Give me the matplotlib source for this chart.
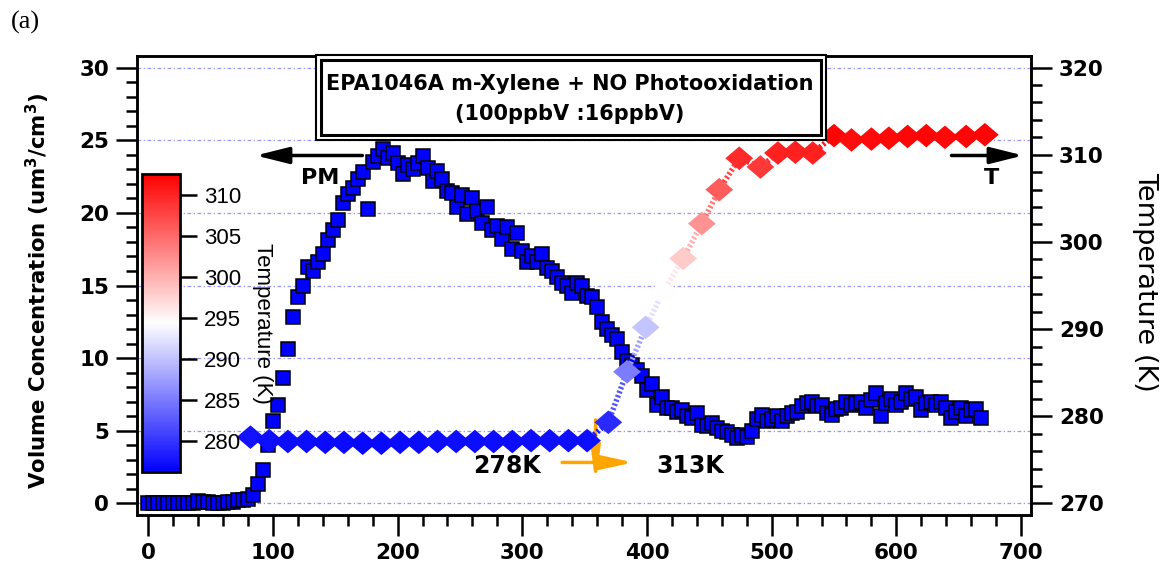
import numpy as np
import matplotlib
matplotlib.use('Agg')
import matplotlib.pyplot as plt
from matplotlib.collections import LineCollection
from matplotlib.patches import Rectangle
from matplotlib.ticker import MultipleLocator
import matplotlib.colors as mcolors
import matplotlib.cm as cm

# volume concentration (um3/cm3), sampled every 4 time units from 0
vol = [
    0.0, 0.0, 0.0, 0.05, 0.0, 0.0, 0.05, 0.0, 0.0, 0.0,
    0.15, 0.1, 0.1, 0.05, 0.0, 0.05, 0.1, 0.1, 0.2, 0.2,
    0.3, 0.6, 1.3, 2.3, 4.0, 5.7, 6.8, 8.6, 10.6, 12.8,
    14.2, 15.0, 16.3, 16.0, 16.6, 17.2, 18.1, 18.8, 19.5, 20.7,
    21.3, 21.7, 22.3, 22.8, 20.3, 23.5, 23.9, 24.4, 23.8, 24.1,
    23.4, 22.7, 23.3, 23.0, 23.4, 23.9, 23.1, 22.2, 22.9, 22.3,
    21.5, 21.4, 20.4, 21.2, 19.9, 21.0, 20.1, 19.3, 20.4, 18.8,
    19.1, 18.2, 19.0, 17.5, 18.6, 17.4, 16.6, 17.0, 16.6, 17.2,
    16.2, 16.0, 15.6, 15.2, 15.0, 14.5, 15.2, 15.0, 14.3, 14.2,
    13.5, 12.5, 12.0, 11.6, 11.3, 10.4, 9.8, 9.5, 9.2, 8.8,
    7.8, 8.2, 6.8, 7.3, 6.6, 6.6, 6.3, 6.4, 6.0, 5.9,
    6.2, 5.4, 5.3, 5.5, 5.2, 5.0, 4.9, 4.7, 4.5, 4.7,
    4.6, 5.0, 5.8, 6.1, 5.7, 5.8, 6.0, 5.7, 6.0, 6.2,
    6.3, 6.7, 6.9, 7.0, 6.7, 6.8, 6.2, 6.1, 6.5, 6.6,
    7.0, 6.8, 6.9, 7.0, 6.6, 7.1, 7.6, 6.0, 6.9, 7.2,
    6.8, 7.0, 7.6, 7.2, 7.3, 6.4, 6.9, 7.0, 6.8, 7.0,
    6.6, 5.9, 6.3, 6.6, 6.0, 6.4, 6.5, 5.9,
]
vol_time = np.arange(len(vol)) * 4

temp_time = [82, 97, 112, 127, 142, 157, 172, 187, 202, 217, 232, 247, 262,
             277, 292, 307, 322, 337, 352, 369, 384, 399, 413, 429, 444,
             458, 474, 491, 505, 519, 533, 550, 564, 580, 594, 609, 624,
             639, 656, 671]
temp = [277.6, 277.2, 277.1, 277.1, 277.0, 277.0, 276.9, 276.9, 277.0,
        277.0, 277.1, 277.1, 277.1, 277.1, 277.1, 277.2, 277.2, 277.2,
        277.2, 279.3, 285.1, 290.2, 294.3, 298.1, 302.1, 306.0, 309.6,
        308.6, 310.2, 310.3, 310.2, 312.2, 311.7, 311.8, 311.9, 312.1,
        312.2, 312.0, 312.1, 312.3]

cbar_ticks = [280, 285, 290, 295, 300, 305, 310]

W, H = 1170, 578


def fx(px):
    return px / W


def fy(py):
    return 1 - py / H


plt.rcParams['font.weight'] = 'bold'
fig = plt.figure(figsize=(11.7, 5.78), dpi=100)
ax = fig.add_axes([fx(137), fy(515), fx(1031) - fx(137), fy(56) - fy(515)])
ax2 = ax.twinx()

# volume concentration squares
ax.plot(vol_time, vol, 's', ms=9.5, mfc='#0000ff', mec='black', mew=1.1,
        zorder=3)
for y in range(0, 31, 5):
    ax.axhline(y, color='#9696ff', lw=0.9, ls=(0, (3, 2, 1, 2)), zorder=1)

ylo, yhi = -0.8, 30.8
ax.set_xlim(-9, 708)
ax.set_ylim(ylo, yhi)
ax2.set_ylim(270 + ylo * 5 / 3, 270 + yhi * 5 / 3)

ax.set_xticks(range(0, 701, 100))
ax.xaxis.set_minor_locator(MultipleLocator(20))
ax.set_yticks(range(0, 31, 5))
ax.yaxis.set_minor_locator(MultipleLocator(1))
ax2.set_yticks(range(270, 321, 10))
ax2.yaxis.set_minor_locator(MultipleLocator(2))

for a in (ax, ax2):
    a.tick_params(which='major', direction='out', length=15, width=1.8,
                  labelsize=15.5, pad=5)
    a.tick_params(which='minor', direction='out', length=8, width=1.8)
    for s in a.spines.values():
        s.set_linewidth(1.8)

# temperature diamonds with dotted connector
norm = mcolors.Normalize(276.2, 312.6)
cmap = plt.get_cmap('bwr')
tt = np.array(temp_time, dtype=float)
tv = np.array(temp)
segs = [[(tt[i], tv[i]), (tt[i + 1], tv[i + 1])] for i in range(len(tt) - 1)]
lc = LineCollection(segs, cmap=cmap, norm=norm, linewidths=4,
                    linestyles=[(0, (0.4, 0.4))], zorder=3)
lc.set_array((tv[:-1] + tv[1:]) / 2)
lc.set_capstyle('butt')
ax2.add_collection(lc)
diamond = [(-1, 0), (0, 0.85), (1, 0), (0, -0.85), (-1, 0)]
ax2.scatter(tt, tv, c=tv, cmap=cmap, norm=norm, marker=diamond, s=400,
            linewidths=0, zorder=4)

# arrows and labels
ax.annotate('', xy=(84, 23.95), xytext=(174, 23.95),
            arrowprops=dict(arrowstyle='-|>,head_length=1.0,head_width=0.25',
                            lw=2.5, color='black', mutation_scale=20))
ax.text(138, 22.4, 'PM', fontsize=16, ha='center', va='center')
ax.annotate('', xy=(704, 23.95), xytext=(642, 23.95),
            arrowprops=dict(arrowstyle='-|>,head_length=1.0,head_width=0.25',
                            lw=2.5, color='black', mutation_scale=20),
            annotation_clip=False)
ax.text(676, 22.4, 'T', fontsize=16, ha='center', va='center')

orange = '#ffa500'
ax.annotate('', xy=(389, 2.82), xytext=(332, 2.82),
            arrowprops=dict(arrowstyle='-|>,head_length=1.0,head_width=0.22',
                            lw=2.5, color=orange, mutation_scale=20,
                            shrinkA=0, shrinkB=0))
ax.annotate('', xy=(358.8, 1.3), xytext=(358.8, 5.75),
            arrowprops=dict(arrowstyle='-|>,head_length=1.0,head_width=0.13',
                            lw=2.5, color=orange, mutation_scale=20,
                            shrinkA=0, shrinkB=0))
ax.text(288, 2.55, '278K', fontsize=17, ha='center', va='center')
ax.text(435, 2.55, '313K', fontsize=17, ha='center', va='center')

# title box
fig.add_artist(Rectangle((fx(316), fy(140)), fx(826) - fx(316),
                         fy(55) - fy(140), transform=fig.transFigure,
                         facecolor='white', edgecolor='black', lw=1.5,
                         zorder=10))
fig.add_artist(Rectangle((fx(321), fy(135)), fx(821) - fx(321),
                         fy(60) - fy(135), transform=fig.transFigure,
                         facecolor='none', edgecolor='black', lw=2.2,
                         zorder=11))
fig.text(fx(570), fy(84), 'EPA1046A m-Xylene + NO Photooxidation',
         fontsize=15, ha='center', va='center', zorder=12)
fig.text(fx(570), fy(114), '(100ppbV :16ppbV)',
         fontsize=15, ha='center', va='center', zorder=12)

# axis labels
fig.text(fx(38), fy(291), 'Volume Concentration (um$^{3}$/cm$^{3}$)',
         rotation=90, fontsize=15.3, ha='center', va='center')
fig.text(fx(1145), fy(282), 'Temperature (K)', rotation=270, fontsize=19.5,
         fontweight='normal', ha='center', va='center')
fig.text(fx(25), fy(22), '(a)', fontsize=19, fontweight='normal',
         family='Liberation Serif', ha='center', va='center')

# colour bar inset
cax = fig.add_axes([fx(142), fy(472), fx(180) - fx(142), fy(174) - fy(472)])
cb = fig.colorbar(cm.ScalarMappable(norm=norm, cmap=cmap), cax=cax)
cb.set_ticks(cbar_ticks)
cb.outline.set_linewidth(2)
cax.tick_params(length=12, width=1.8, labelsize=16, pad=5)
for lbl in cax.get_yticklabels():
    lbl.set_fontweight('normal')
    lbl.set_family('Liberation Sans')
fig.text(fx(262), fy(323), 'Temperature (K)', rotation=270, fontsize=16,
         fontweight='normal', family='Liberation Sans',
         ha='center', va='center')

fig.savefig('out.png', dpi=100)
